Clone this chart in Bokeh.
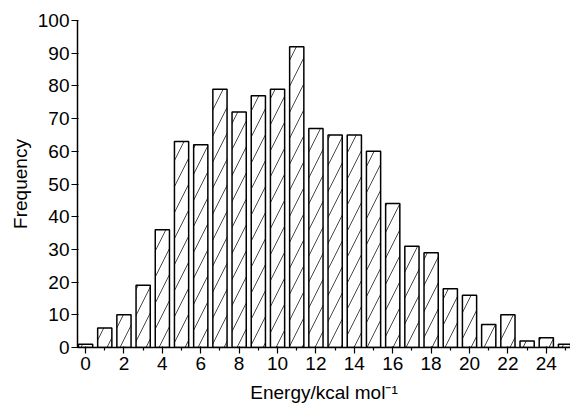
from bokeh.plotting import figure
from bokeh.models import Range1d, FixedTicker, ColumnDataSource
from bokeh.embed import file_html
from bokeh.resources import INLINE

energy = list(range(0, 26))
frequency = [1, 6, 10, 19, 36, 63, 62, 79, 72, 77, 79, 92, 67, 65, 65, 60,
             44, 31, 29, 18, 16, 7, 10, 2, 3, 1]
x_ticks = list(range(0, 25, 2))
x_minor = list(range(1, 26, 2))
y_ticks = list(range(0, 101, 10))

FONT = "Liberation Sans"

p = figure(width=570, height=410, output_backend="svg", toolbar_location=None,
           x_range=Range1d(-0.42, 25.26), y_range=Range1d(0, 100),
           min_border_left=77, min_border_right=0, min_border_top=20,
           min_border_bottom=63)
p.outline_line_color = None
p.grid.grid_line_color = None
p.background_fill_color = "white"
p.border_fill_color = "white"

src = ColumnDataSource(dict(x=energy, top=frequency))
p.vbar(x="x", top="top", bottom=0, width=0.74, source=src,
       fill_color="white", line_color="black", line_width=1.5,
       hatch_pattern="/", hatch_color="#333333", hatch_weight=0.9,
       hatch_scale=26)

p.xaxis.ticker = FixedTicker(ticks=x_ticks, minor_ticks=x_minor)
p.yaxis.ticker = FixedTicker(ticks=y_ticks)

for ax in (p.xaxis[0], p.yaxis[0]):
    ax.axis_line_color = "black"
    ax.axis_line_width = 1.5
    ax.major_tick_line_color = "black"
    ax.major_tick_line_width = 1.2
    ax.major_tick_in = 1
    ax.major_tick_out = 6
    ax.major_label_text_font = FONT
    ax.major_label_text_font_size = "19px"
    ax.major_label_text_color = "black"
    ax.axis_label_text_font = FONT
    ax.axis_label_text_font_style = "normal"
    ax.axis_label_text_color = "black"

p.xaxis.minor_tick_line_color = "black"
p.xaxis.minor_tick_line_width = 1.2
p.xaxis.minor_tick_out = 3
p.xaxis.minor_tick_in = 0
p.yaxis.minor_tick_line_color = None
p.xaxis.major_label_standoff = 3
p.yaxis.major_label_standoff = 2

p.xaxis.axis_label = "Energy/kcal mol\u207b\u00b9"
p.xaxis.axis_label_text_font_size = "19px"
p.xaxis.axis_label_standoff = 9
p.yaxis.axis_label = "Frequency"
p.yaxis.axis_label_text_font_size = "19px"
p.yaxis.axis_label_standoff = 4

open("out.html", "w").write(file_html(p, INLINE))
